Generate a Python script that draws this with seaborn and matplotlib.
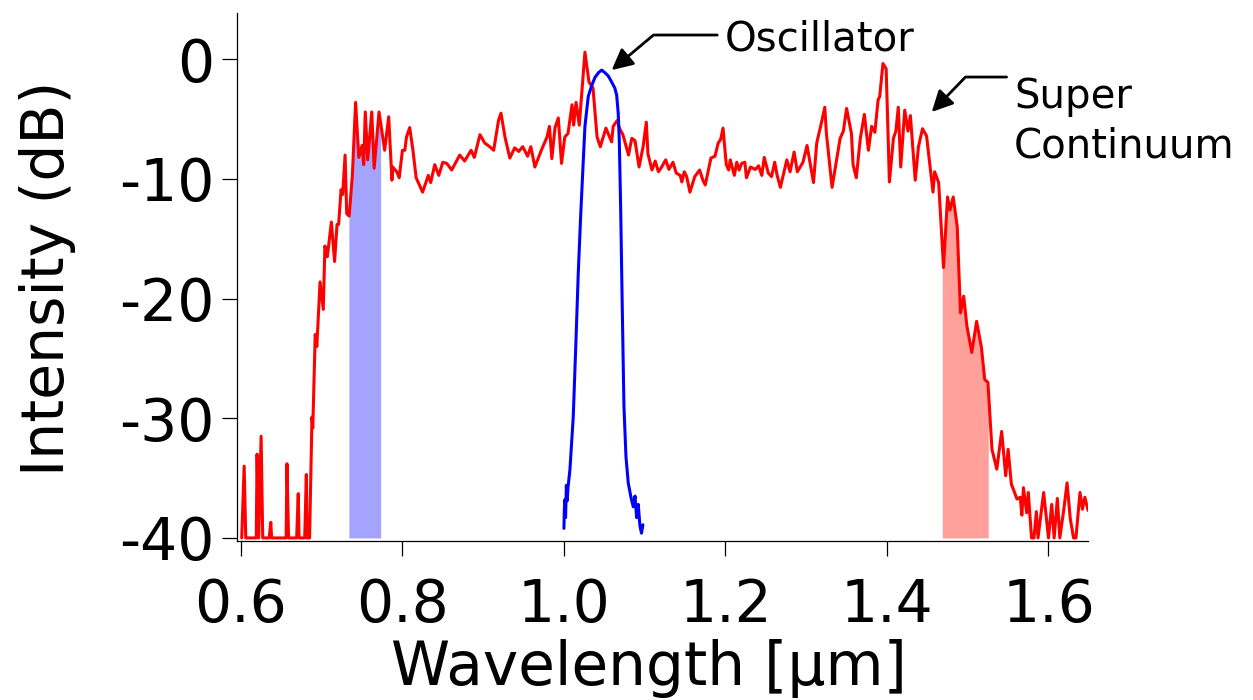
import numpy as np
import pandas as pd
import matplotlib
matplotlib.use("Agg")
import matplotlib.pyplot as plt
import seaborn as sns

# ---------------- data ----------------
sc_wavelength = [
    0.601, 0.604, 0.606, 0.619, 0.620, 0.622, 0.625, 0.627, 0.635, 0.637, 0.638,
    0.656, 0.657, 0.659, 0.669, 0.671, 0.672, 0.679, 0.681, 0.682, 0.685, 0.688,
    0.689, 0.692, 0.694, 0.698, 0.702, 0.704, 0.707, 0.712, 0.716, 0.719, 0.721,
    0.724, 0.726, 0.729, 0.731, 0.734, 0.738, 0.742, 0.746, 0.750, 0.752, 0.754,
    0.757, 0.762, 0.765, 0.771, 0.778, 0.783, 0.787, 0.788, 0.793, 0.796, 0.800,
    0.803, 0.805, 0.809, 0.813, 0.817, 0.825, 0.832, 0.835, 0.840, 0.845, 0.850,
    0.855, 0.861, 0.871, 0.877, 0.885, 0.889, 0.896, 0.902, 0.908, 0.913, 0.919,
    0.922, 0.927, 0.933, 0.939, 0.944, 0.949, 0.955, 0.959, 0.964, 0.972, 0.979,
    0.982, 0.985, 0.989, 0.993, 0.997, 1.001, 1.005, 1.010, 1.012, 1.015, 1.019,
    1.026, 1.031, 1.036, 1.041, 1.045, 1.052, 1.059, 1.061, 1.066, 1.069, 1.073,
    1.080, 1.084, 1.088, 1.093, 1.098, 1.102, 1.104, 1.109, 1.113, 1.117, 1.121,
    1.126, 1.130, 1.135, 1.139, 1.144, 1.146, 1.149, 1.152, 1.156, 1.162, 1.168,
    1.172, 1.175, 1.182, 1.187, 1.191, 1.194, 1.197, 1.201, 1.204, 1.206, 1.211,
    1.214, 1.217, 1.220, 1.224, 1.226, 1.231, 1.237, 1.241, 1.245, 1.248, 1.253,
    1.257, 1.261, 1.264, 1.268, 1.276, 1.280, 1.285, 1.289, 1.296, 1.301, 1.309,
    1.313, 1.319, 1.323, 1.325, 1.332, 1.342, 1.346, 1.350, 1.356, 1.358, 1.362,
    1.367, 1.372, 1.377, 1.381, 1.385, 1.389, 1.391, 1.395, 1.399, 1.403, 1.408,
    1.411, 1.414, 1.417, 1.422, 1.426, 1.429, 1.435, 1.439, 1.444, 1.449, 1.457,
    1.459, 1.464, 1.470, 1.475, 1.478, 1.482, 1.487, 1.491, 1.495, 1.499, 1.505,
    1.511, 1.517, 1.521, 1.525, 1.530, 1.536, 1.542, 1.547, 1.550, 1.554, 1.561,
    1.565, 1.567, 1.569, 1.573, 1.575, 1.579, 1.582, 1.585, 1.587, 1.594, 1.600,
    1.604, 1.607, 1.611, 1.614, 1.619, 1.623, 1.627, 1.631, 1.634, 1.639, 1.642,
    1.645, 1.649,
]
sc_intensity = [
    -40.0, -34.0, -40.0, -40.0, -33.0, -40.0, -31.5, -40.0, -40.0, -38.7, -40.0,
    -40.0, -33.8, -40.0, -40.0, -36.3, -40.0, -40.0, -34.7, -40.0, -40.0, -29.9,
    -30.8, -23.0, -24.0, -18.6, -20.9, -15.6, -16.5, -13.6, -16.9, -13.8, -13.8,
    -10.9, -11.3, -8.0, -12.9, -13.1, -9.7, -3.6, -8.2, -7.2, -8.8, -4.4,
    -8.4, -4.4, -9.1, -4.4, -7.6, -4.8, -10.1, -9.0, -9.4, -9.9, -7.6,
    -7.6, -6.5, -5.7, -7.6, -9.9, -11.1, -9.7, -10.3, -8.8, -9.7, -8.6,
    -8.7, -9.25, -8.0, -8.5, -7.6, -8.2, -6.3, -7.0, -7.3, -7.6, -5.1,
    -4.5, -6.5, -8.25, -7.4, -7.7, -7.3, -8.1, -7.3, -9.0, -7.6, -6.5,
    -5.6, -8.3, -5.7, -4.9, -8.7, -6.5, -6.2, -3.8, -5.5, -3.6, -5.5,
    0.6, -1.9, -2.4, -6.5, -7.3, -5.75, -6.9, -5.6, -5.1, -5.8, -6.3,
    -8.0, -6.6, -6.8, -9.0, -7.3, -5.25, -7.9, -9.25, -8.5, -9.4, -9.0,
    -8.4, -9.2, -8.6, -9.5, -9.7, -10.25, -9.4, -9.8, -11.1, -9.8, -9.25,
    -10.1, -10.5, -8.25, -8.1, -7.0, -6.7, -5.75, -8.8, -9.25, -8.4, -9.7,
    -8.6, -9.25, -8.7, -8.6, -9.9, -9.0, -9.2, -8.9, -9.7, -8.2, -9.5,
    -9.8, -8.6, -9.7, -10.7, -8.4, -9.4, -7.75, -9.4, -8.6, -7.2, -10.3,
    -7.0, -5.25, -4.0, -6.2, -10.7, -6.6, -6.0, -4.1, -6.2, -8.8, -9.9,
    -6.6, -4.6, -7.6, -5.6, -6.1, -3.4, -3.1, -0.35, -0.8, -10.25, -6.6,
    -6.0, -4.0, -9.0, -4.25, -6.0, -4.7, -10.1, -7.3, -5.8, -6.4, -11.1,
    -9.4, -10.3, -17.4, -11.5, -12.6, -11.5, -14.0, -21.2, -19.8, -22.3, -24.5,
    -21.9, -24.1, -26.75, -27.0, -32.6, -34.25, -31.1, -34.8, -32.6, -35.5, -36.75,
    -36.6, -38.1, -35.8, -37.9, -36.2, -40.0, -40.0, -37.8, -40.0, -36.2, -40.0,
    -37.2, -40.0, -36.7, -40.0, -37.6, -35.4, -38.4, -40.0, -40.0, -36.2, -37.6,
    -36.6, -37.7,
]

osc_wavelength = [
    1.0000, 1.0005, 1.0012, 1.0020, 1.0030, 1.0040, 1.0050, 1.0074, 1.0115,
    1.0149, 1.0177, 1.0207, 1.0232, 1.0260, 1.0301, 1.0343, 1.0385, 1.0430,
    1.0467, 1.0505, 1.0550, 1.0591, 1.0630, 1.0653, 1.0672, 1.0685, 1.0702,
    1.0722, 1.0743, 1.0768, 1.0796, 1.0830, 1.0858, 1.0880, 1.0900, 1.0920,
    1.0941, 1.0960, 1.0978,
]
osc_intensity = [
    -39.2, -37.6, -36.8, -38.3, -35.6, -36.9, -35.8, -34.3, -29.9,
    -23.5, -17.9, -13.1, -9.5, -5.6, -3.1, -2.2, -1.5, -1.1,
    -0.9, -1.1, -1.4, -1.9, -2.4, -3.0, -4.5, -6.7, -12.3,
    -20.7, -29.0, -33.2, -35.4, -36.6, -37.4, -36.5, -38.3, -37.2,
    -39.0, -39.6, -38.9,
]

blue_band = (0.7337, 0.7730)   # short-wavelength band (shaded blue)
red_band = (1.4685, 1.5254)    # long-wavelength band (shaded red)

x_ticks = [0.6, 0.8, 1.0, 1.2, 1.4, 1.6]
x_tick_labels = ["0.6", "0.8", "1.0", "1.2", "1.4", "1.6"]
y_ticks = [0, -10, -20, -30, -40]
y_tick_labels = ["0", "-10", "-20", "-30", "-40"]

osc_peak = (1.0591, -0.9)
sc_edge = (1.4554, -4.4)

# ---------------- figure ----------------
sns.set_style("ticks")
plt.rcParams["font.family"] = ["DejaVu Sans"]
plt.rcParams["text.color"] = "black"
plt.rcParams["axes.labelcolor"] = "black"
plt.rcParams["xtick.color"] = "black"
plt.rcParams["ytick.color"] = "black"

fig = plt.figure(figsize=(12.53, 7.0), dpi=100)
ax = fig.add_axes([0.1895, 0.2276, 0.6788, 0.7543])

sc = pd.DataFrame({"wavelength": sc_wavelength, "intensity": sc_intensity})
osc = pd.DataFrame({"wavelength": osc_wavelength, "intensity": osc_intensity})

# shaded bands under the supercontinuum
xs = np.asarray(sc_wavelength)
ys = np.asarray(sc_intensity)
for (lo, hi), col in [(blue_band, "#a4a4ff"), (red_band, "#ffa19a")]:
    m = (xs > lo) & (xs < hi)
    bx = np.concatenate([[lo], xs[m], [hi]])
    by = np.concatenate([[np.interp(lo, xs, ys)], ys[m], [np.interp(hi, xs, ys)]])
    ax.fill_between(bx, by, -40, color=col, lw=0, zorder=1)

sns.lineplot(data=sc, x="wavelength", y="intensity", sort=False, estimator=None,
             color="#ff0000", lw=2.2, ax=ax, zorder=3)
sns.lineplot(data=osc, x="wavelength", y="intensity", sort=False, estimator=None,
             color="#0000ff", lw=2.2, ax=ax, zorder=4)

ax.set_xlim(0.5957, 1.6489)
ax.set_ylim(-40.23, 3.9)
ax.set_xticks(x_ticks)
ax.set_xticklabels(x_tick_labels)
ax.set_yticks(y_ticks)
ax.set_yticklabels(y_tick_labels)

for s in ["top", "right"]:
    ax.spines[s].set_visible(False)
for s in ["left", "bottom"]:
    ax.spines[s].set_linewidth(0.9)
    ax.spines[s].set_color("black")

ax.tick_params(axis="both", direction="out", length=10.5, width=0.9,
               labelsize=42, colors="black")
ax.tick_params(axis="x", pad=16)
ax.tick_params(axis="y", pad=6)

ax.set_xlabel("Wavelength [µm]", fontsize=43, color="black")
ax.set_ylabel("Intensity (dB)", fontsize=42, color="black")
ax.xaxis.set_label_coords(0.4838, -0.186)
ax.yaxis.set_label_coords(-0.190, 0.496)

arrow_kw = dict(arrowstyle="-|>", color="black", lw=2.0, mutation_scale=32,
                shrinkA=3, shrinkB=0)
ax.annotate("Oscillator", xy=osc_peak, xytext=(1.199, 1.63), textcoords="data",
            ha="left", va="center", fontsize=29, color="black",
            arrowprops=dict(connectionstyle="angle,angleA=0,angleB=40,rad=0",
                            relpos=(0, 0.62), **arrow_kw))
ax.annotate("Super\nContinuum", xy=sc_edge, xytext=(1.5573, -1.48),
            textcoords="data", ha="left", va="top", fontsize=29,
            linespacing=1.3, color="black",
            arrowprops=dict(connectionstyle="angle,angleA=0,angleB=46,rad=0",
                            relpos=(0, 1.0), **arrow_kw))

fig.savefig("out.png", dpi=100)
